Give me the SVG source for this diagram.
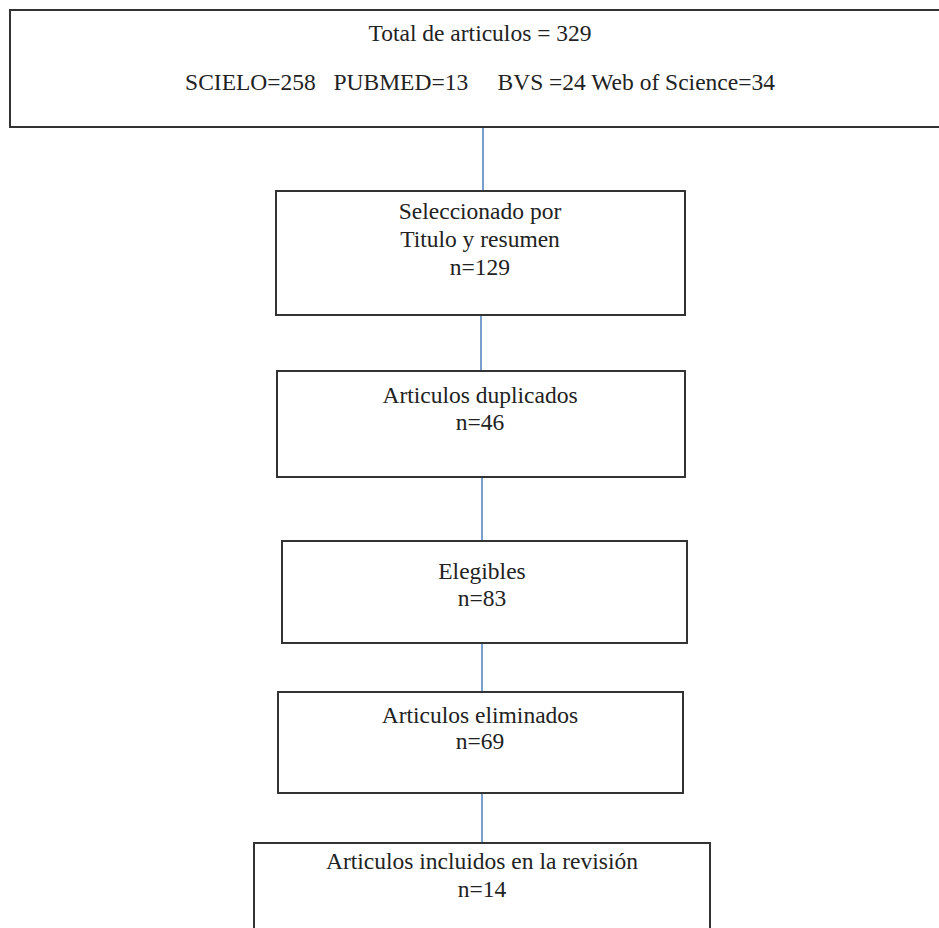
<svg xmlns="http://www.w3.org/2000/svg" width="939" height="928" viewBox="0 0 939 928">
<style>
.box{fill:#fff;stroke:#333;stroke-width:2}
.t{font-family:"Liberation Serif","Times New Roman",serif;font-size:23.5px;fill:#222;text-anchor:middle;white-space:pre}
.c{stroke:#4a7ebb;stroke-width:1.5;fill:none}
</style>
<rect width="939" height="928" fill="#fff"/>
<g id="connectors">
<line class="c" x1="483" y1="127" x2="483" y2="191"/>
<line class="c" x1="481" y1="315" x2="481" y2="371"/>
<line class="c" x1="482" y1="477" x2="482" y2="541"/>
<line class="c" x1="482" y1="643" x2="482" y2="692"/>
<line class="c" x1="482" y1="793" x2="482" y2="843"/>
</g>
<g id="n1">
<rect class="box" x="10" y="10" width="940" height="117"/>
<text class="t" x="480" y="41">Total de articulos = 329</text>
<text class="t" x="480" y="90" xml:space="preserve">SCIELO=258   PUBMED=13     BVS =24 Web of Science=34</text>
</g>
<g id="n2">
<rect class="box" x="276" y="191" width="409" height="124"/>
<text class="t" x="480" y="219">Seleccionado por</text>
<text class="t" x="480" y="247">Titulo y resumen</text>
<text class="t" x="480" y="275">n=129</text>
</g>
<g id="n3">
<rect class="box" x="277" y="371" width="408" height="106"/>
<text class="t" x="480" y="403">Articulos duplicados</text>
<text class="t" x="480" y="430">n=46</text>
</g>
<g id="n4">
<rect class="box" x="282" y="541" width="405" height="102"/>
<text class="t" x="482" y="579">Elegibles</text>
<text class="t" x="482" y="606">n=83</text>
</g>
<g id="n5">
<rect class="box" x="278" y="692" width="405" height="101"/>
<text class="t" x="480" y="723">Articulos eliminados</text>
<text class="t" x="480" y="749">n=69</text>
</g>
<g id="n6">
<rect class="box" x="254" y="843" width="456" height="100"/>
<text class="t" x="482" y="869">Articulos incluidos en la revisión</text>
<text class="t" x="482" y="897">n=14</text>
</g>
</svg>
